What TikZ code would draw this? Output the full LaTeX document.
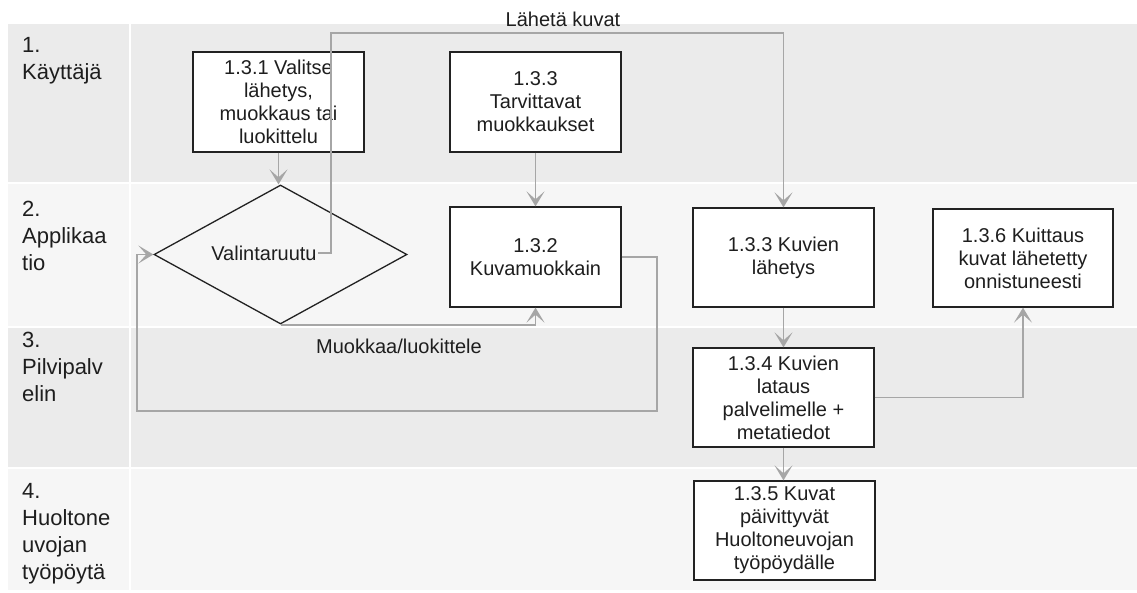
\documentclass[tikz,border=0pt]{standalone}
\usepackage{fontspec}
\setmainfont{Liberation Sans}
\usetikzlibrary{arrows.meta,shapes.geometric}
\definecolor{laneA}{HTML}{EBEBEB}
\definecolor{laneB}{HTML}{F6F6F6}
\definecolor{conn}{HTML}{A6A6A6}
\definecolor{txt}{HTML}{1E1E1E}
\definecolor{edge}{HTML}{222222}
\begin{document}
\begin{tikzpicture}[x=1pt,y=-1pt,
  box/.style={draw=edge,fill=white,line width=1.3pt,align=center,inner sep=0pt,
    font=\fontsize{20}{23}\selectfont,text=txt},
  lanelabel/.style={anchor=north west,align=left,inner sep=0pt,
    font=\fontsize{22}{27}\selectfont,text=txt},
  flowlabel/.style={inner sep=0pt,font=\fontsize{20}{23}\selectfont,text=txt},
  conn/.style={draw=conn,line width=1.8pt,-{Stealth[length=15pt,width=18pt,inset=8pt]}},
  sep/.style={draw=white,line width=2pt}]
\useasboundingbox (0,0) rectangle (1137,592);
\fill[white] (0,0) rectangle (1137,592);
% lanes
\fill[laneA] (8,24) rectangle (1137,183);
\fill[laneB] (8,183) rectangle (1137,327);
\fill[laneA] (8,327) rectangle (1137,468);
\fill[laneB] (8,468) rectangle (1137,590);
\draw[sep] (130,24) -- (130,590);
\draw[sep] (8,183) -- (1137,183);
\draw[sep] (8,327) -- (1137,327);
\draw[sep] (8,468) -- (1137,468);
% lane labels
\node[lanelabel] (l1) at (22,37) {1.\\Käyttäjä};
\node[lanelabel] (l2) at (22,201) {2.\\Applikaa\\tio};
\node[lanelabel] (l3) at (22,332) {3.\\Pilvipalv\\elin};
\node[lanelabel] (l4) at (22,483) {4.\\Huoltone\\uvojan\\työpöytä};
% boxes
\node[box,minimum width=171pt,minimum height=100pt] (b131) at (278.5,102) {1.3.1 Valitse\\lähetys,\\muokkaus tai\\luokittelu};
\node[box,minimum width=171pt,minimum height=100pt] (b133t) at (535.5,102) {1.3.3\\Tarvittavat\\muokkaukset};
\node[box,minimum width=171pt,minimum height=100pt] (b132) at (535.5,257) {1.3.2\\Kuvamuokkain};
\node[box,minimum width=181pt,minimum height=99pt] (b133k) at (783.5,257.5) {1.3.3 Kuvien\\lähetys};
\node[box,minimum width=180pt,minimum height=98pt] (b136) at (1023,258) {1.3.6 Kuittaus\\kuvat lähetetty\\onnistuneesti};
\node[box,minimum width=181pt,minimum height=99pt] (b134) at (783.5,397.5) {1.3.4 Kuvien\\lataus\\palvelimelle +\\metatiedot};
\node[box,minimum width=181pt,minimum height=99pt] (b135) at (784.5,530.5) {1.3.5 Kuvat\\päivittyvät\\Huoltoneuvojan\\työpöydälle};
% decision
\node[diamond,draw=edge,line width=1.3pt,minimum width=253pt,minimum height=139pt,inner sep=0pt] (dia) at (280.5,254.5) {};
\node[flowlabel,inner sep=1.5pt] (vt) at (264,253) {Valintaruutu};
% connector helpers
\coordinate (c1) at (331,33);
\coordinate (c3) at (657,411);
\coordinate (c4) at (137,411);
% connectors
\draw[conn] (b131.south) -- (b131.south |- dia.north);
\draw[conn] (vt.east) -| (c1) -| (b133k.north);
\node[flowlabel] (lk) at (563,19) {Lähetä kuvat};
\draw[conn] (b133t.south) -- (b132.north);
\draw[conn] (dia.south) -| (b132.south);
\node[flowlabel] (ml) at (399,346) {Muokkaa/luokittele};
\draw[conn] (b132.east) -| (c3) -- (c4) |- (dia.west);
\draw[conn] (b133k.south) -- (b134.north);
\draw[conn] (b134.east) -| (b136.south);
\draw[conn] (b134.south) -- (b134.south |- b135.north);
\end{tikzpicture}
\end{document}
